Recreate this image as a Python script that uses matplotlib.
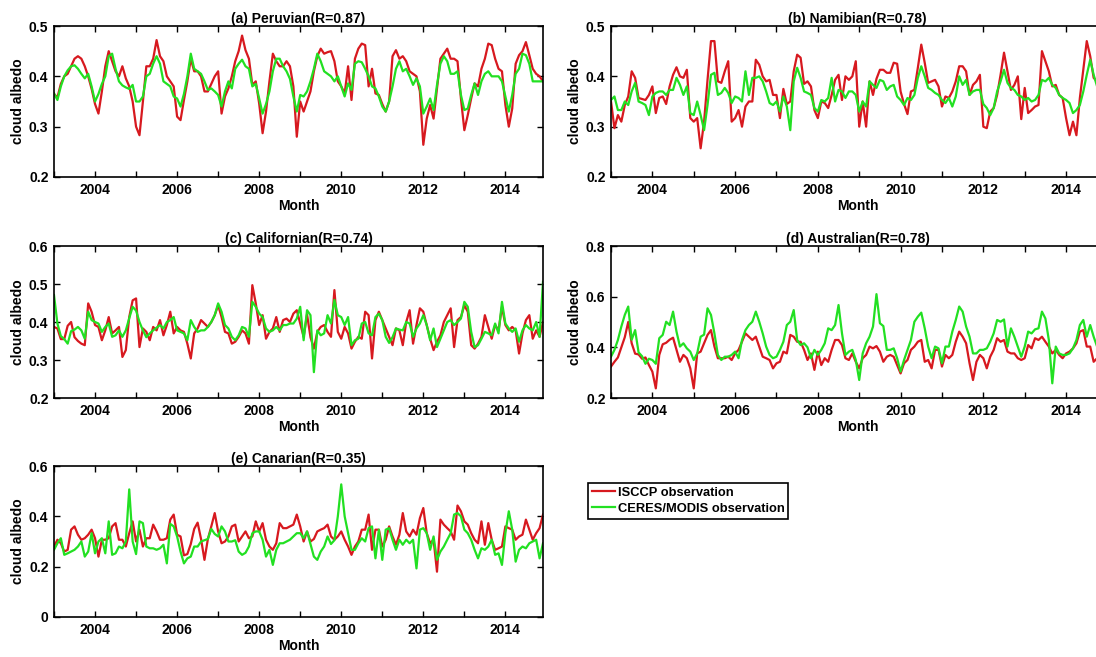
import numpy as np
import matplotlib
matplotlib.use('Agg')
import matplotlib.pyplot as plt
from matplotlib.ticker import MultipleLocator, FuncFormatter

plt.rcParams['font.family'] = ['Liberation Sans', 'DejaVu Sans']
plt.rcParams['font.weight'] = 'bold'

# monthly cloud albedo, Jan 2003 - Dec 2014 (one row per year)
peru_isccp = [
    .365, .358, .385, .40, .405, .42, .435, .44, .435, .42, .40, .375,
    .345, .326, .37, .42, .45, .43, .41, .40, .42, .396, .38, .35,
    .30, .283, .35, .42, .42, .435, .472, .44, .43, .40, .39, .38,
    .32, .313, .353, .39, .435, .41, .41, .40, .37, .37, .385, .40,
    .41, .326, .36, .376, .40, .43, .45, .481, .452, .435, .383, .39,
    .346, .287, .33, .39, .445, .43, .42, .42, .43, .42, .38, .28,
    .35, .33, .35, .37, .41, .44, .455, .445, .448, .45, .43, .39,
    .38, .366, .42, .353, .435, .455, .465, .462, .38, .415, .366, .363,
    .345, .33, .35, .44, .452, .435, .44, .43, .41, .405, .40, .37,
    .264, .316, .343, .316, .376, .435, .445, .455, .435, .435, .43, .356,
    .293, .323, .356, .386, .38, .415, .435, .465, .462, .435, .415, .41,
    .343, .30, .336, .425, .442, .45, .468, .442, .415, .405, .40, .39]
peru_ceres = [
    .366, .353, .38, .40, .412, .42, .422, .415, .405, .396, .405, .38,
    .35, .365, .385, .40, .44, .445, .415, .39, .382, .378, .375, .383,
    .35, .35, .36, .40, .405, .425, .44, .425, .39, .385, .38, .36,
    .356, .34, .365, .40, .445, .415, .41, .405, .39, .373, .376, .37,
    .363, .34, .37, .39, .376, .415, .425, .433, .42, .415, .38, .385,
    .356, .326, .345, .37, .41, .435, .435, .42, .41, .395, .36, .33,
    .363, .36, .37, .39, .415, .445, .43, .41, .405, .40, .39, .40,
    .38, .36, .386, .373, .425, .43, .428, .415, .40, .38, .376, .36,
    .34, .33, .35, .38, .415, .43, .41, .415, .40, .383, .396, .38,
    .326, .34, .356, .333, .383, .425, .44, .43, .405, .405, .41, .363,
    .333, .336, .363, .386, .363, .39, .405, .41, .40, .40, .40, .39,
    .36, .33, .363, .405, .415, .445, .442, .425, .39, .39, .39, .39]

namib_isccp = [
    .35, .297, .323, .31, .343, .36, .41, .397, .357, .355, .353, .363,
    .38, .327, .357, .36, .345, .38, .403, .418, .40, .397, .413, .317,
    .31, .317, .257, .31, .393, .47, .47, .39, .387, .41, .43, .31,
    .317, .333, .30, .34, .35, .35, .433, .423, .40, .39, .393, .363,
    .363, .317, .375, .345, .35, .41, .443, .437, .385, .39, .38, .333,
    .317, .35, .347, .337, .363, .393, .403, .353, .40, .393, .40, .43,
    .30, .35, .30, .39, .363, .395, .413, .413, .407, .407, .427, .425,
    .37, .345, .325, .37, .373, .417, .463, .427, .387, .39, .393, .38,
    .34, .36, .357, .37, .39, .42, .42, .41, .363, .383, .39, .403,
    .30, .297, .33, .337, .363, .403, .447, .41, .373, .383, .40, .315,
    .377, .327, .333, .34, .343, .45, .43, .41, .38, .383, .363, .357,
    .317, .283, .31, .283, .357, .413, .47, .44, .397, .39, .36, .34]
namib_ceres = [
    .353, .36, .333, .333, .35, .343, .37, .387, .35, .347, .343, .323,
    .36, .367, .37, .37, .363, .373, .373, .397, .383, .363, .38, .327,
    .323, .35, .323, .293, .343, .403, .407, .363, .367, .377, .367, .347,
    .36, .357, .35, .41, .363, .397, .397, .40, .39, .37, .347, .343,
    .35, .33, .36, .34, .293, .39, .417, .397, .37, .367, .363, .337,
    .33, .353, .35, .357, .397, .35, .373, .37, .357, .37, .37, .363,
    .33, .35, .34, .39, .383, .377, .393, .39, .373, .38, .383, .36,
    .353, .343, .357, .353, .363, .397, .42, .40, .377, .373, .367, .363,
    .353, .347, .357, .34, .36, .40, .383, .393, .363, .37, .373, .373,
    .345, .337, .323, .337, .37, .39, .413, .387, .377, .373, .363, .36,
    .353, .357, .35, .353, .363, .393, .39, .397, .383, .377, .363, .357,
    .353, .347, .327, .333, .343, .37, .403, .433, .403, .38, .38, .35]

calif_isccp = [
    .387, .383, .355, .355, .39, .40, .36, .35, .343, .339, .449, .427,
    .392, .387, .352, .378, .413, .37, .378, .387, .308, .326, .413, .457,
    .462, .334, .383, .374, .352, .387, .378, .405, .365, .392, .427, .37,
    .387, .378, .374, .343, .304, .37, .383, .405, .396, .387, .40, .418,
    .444, .413, .374, .37, .343, .348, .361, .378, .37, .343, .497, .449,
    .392, .418, .356, .374, .383, .413, .374, .405, .409, .40, .422, .431,
    .396, .361, .42, .36, .33, .374, .387, .392, .374, .361, .484, .374,
    .356, .387, .37, .33, .348, .361, .356, .427, .418, .304, .405, .427,
    .405, .383, .361, .339, .383, .378, .339, .40, .431, .343, .392, .436,
    .427, .392, .356, .326, .348, .365, .40, .418, .436, .334, .405, .413,
    .444, .427, .339, .33, .343, .361, .418, .387, .356, .392, .378, .44,
    .392, .378, .387, .378, .317, .37, .405, .418, .356, .378, .361, .40]
calif_ceres = [
    .471, .396, .363, .355, .343, .376, .38, .387, .378, .356, .427, .405,
    .40, .396, .374, .387, .396, .361, .365, .378, .361, .378, .41, .44,
    .43, .40, .378, .36, .37, .378, .385, .392, .383, .40, .405, .413,
    .378, .374, .37, .352, .405, .387, .374, .378, .378, .387, .40, .418,
    .449, .427, .392, .383, .361, .352, .365, .387, .383, .361, .453, .44,
    .422, .413, .383, .374, .378, .387, .378, .392, .392, .396, .396, .409,
    .44, .352, .431, .418, .268, .378, .365, .37, .418, .396, .458, .418,
    .413, .392, .413, .339, .352, .356, .396, .40, .37, .365, .413, .422,
    .405, .361, .345, .36, .383, .38, .378, .40, .396, .361, .383, .396,
    .418, .392, .352, .383, .334, .356, .378, .40, .405, .392, .40, .409,
    .453, .44, .374, .334, .339, .356, .374, .37, .365, .396, .37, .453,
    .396, .383, .374, .383, .348, .378, .392, .383, .378, .40, .361, .506]

austr_isccp = [
    .324, .343, .36, .40, .44, .50, .416, .375, .372, .355, .36, .33,
    .304, .238, .37, .412, .418, .43, .438, .39, .343, .37, .357, .317,
    .238, .376, .383, .416, .449, .468, .403, .357, .357, .357, .363, .35,
    .376, .39, .422, .455, .442, .429, .442, .403, .363, .357, .35, .317,
    .337, .343, .383, .376, .449, .442, .422, .422, .39, .35, .376, .311,
    .383, .33, .357, .343, .39, .429, .429, .409, .357, .35, .376, .343,
    .317, .357, .37, .403, .396, .405, .383, .343, .363, .37, .363, .33,
    .297, .337, .35, .39, .403, .422, .429, .343, .35, .317, .39, .39,
    .324, .37, .357, .37, .422, .462, .442, .416, .337, .271, .343, .37,
    .357, .317, .363, .39, .436, .422, .429, .383, .376, .376, .357, .35,
    .357, .409, .396, .436, .429, .442, .422, .403, .376, .39, .37, .357,
    .376, .383, .396, .416, .462, .468, .403, .403, .343, .357, .36, .36]
austr_ceres = [
    .363, .39, .429, .482, .528, .561, .43, .468, .38, .365, .335, .355,
    .35, .335, .436, .449, .501, .488, .541, .462, .403, .416, .396, .383,
    .35, .376, .442, .45, .554, .528, .455, .37, .35, .363, .363, .37,
    .383, .357, .429, .468, .488, .501, .541, .501, .455, .403, .37, .357,
    .363, .39, .422, .488, .501, .547, .429, .409, .416, .40, .357, .39,
    .37, .39, .416, .475, .468, .488, .567, .455, .37, .383, .39, .35,
    .271, .376, .416, .442, .482, .61, .495, .484, .39, .39, .396, .357,
    .304, .35, .39, .429, .501, .521, .537, .475, .403, .357, .403, .396,
    .337, .403, .403, .462, .508, .561, .541, .482, .442, .376, .376, .39,
    .39, .396, .422, .455, .508, .501, .51, .403, .475, .442, .403, .363,
    .403, .462, .455, .471, .475, .541, .514, .429, .258, .403, .376, .37,
    .37, .376, .396, .429, .488, .508, .442, .488, .442, .403, .39, .38]

canar_isccp = [
    .28, .307, .293, .26, .267, .347, .36, .327, .307, .313, .327, .347,
    .313, .24, .307, .307, .313, .36, .373, .307, .307, .28, .333, .38,
    .30, .347, .28, .313, .313, .367, .34, .307, .307, .313, .387, .407,
    .327, .32, .245, .25, .29, .35, .375, .31, .227, .31, .36, .413,
    .34, .293, .30, .32, .36, .367, .30, .32, .34, .313, .32, .38,
    .34, .373, .307, .28, .267, .293, .373, .353, .353, .36, .367, .407,
    .36, .30, .34, .30, .31, .34, .347, .353, .367, .32, .307, .32,
    .34, .307, .28, .247, .28, .30, .347, .347, .407, .267, .347, .347,
    .28, .307, .36, .32, .287, .327, .413, .34, .32, .347, .327, .393,
    .433, .333, .293, .307, .18, .387, .367, .353, .34, .307, .443, .42,
    .38, .367, .333, .307, .293, .38, .287, .373, .307, .267, .273, .28,
    .36, .353, .347, .307, .32, .327, .387, .347, .307, .333, .353, .407]
canar_ceres = [
    .267, .293, .313, .247, .253, .26, .267, .28, .30, .24, .26, .333,
    .253, .30, .313, .253, .38, .247, .253, .28, .273, .30, .507, .30,
    .25, .38, .373, .28, .273, .273, .267, .273, .287, .213, .37, .36,
    .32, .26, .213, .233, .24, .28, .28, .30, .305, .31, .35, .33,
    .32, .36, .34, .30, .30, .305, .26, .247, .255, .28, .333, .34,
    .34, .307, .24, .267, .207, .267, .293, .293, .30, .307, .32, .333,
    .333, .313, .34, .29, .24, .227, .26, .28, .32, .29, .305, .40,
    .527, .40, .333, .267, .267, .293, .313, .30, .353, .36, .233, .347,
    .227, .347, .353, .307, .267, .307, .287, .307, .293, .307, .193, .347,
    .353, .333, .267, .32, .227, .26, .28, .307, .333, .407, .413, .40,
    .347, .333, .307, .267, .233, .273, .267, .28, .307, .247, .253, .207,
    .333, .42, .347, .22, .267, .28, .273, .293, .30, .307, .233, .293]

titles = ['(a) Peruvian(R=0.87)', '(b) Namibian(R=0.78)', '(c) Californian(R=0.74)',
          '(d) Australian(R=0.78)', '(e) Canarian(R=0.35)']
series = [(peru_isccp, peru_ceres), (namib_isccp, namib_ceres), (calif_isccp, calif_ceres),
          (austr_isccp, austr_ceres), (canar_isccp, canar_ceres)]
ylims = [(0.2, 0.5, 0.1), (0.2, 0.5, 0.1), (0.2, 0.6, 0.1), (0.2, 0.8, 0.2), (0.0, 0.6, 0.2)]
labels = ['ISCCP observation', 'CERES/MODIS observation']

months = 2003 + np.arange(144) / 12.0

W, H = 1096, 657
fig = plt.figure(figsize=(W / 100, H / 100), dpi=100)

# axes boxes in pixels: left, top, right, bottom
boxes = [(54, 26, 543, 177), (611, 26, 1104, 177),
         (54, 246, 543, 398), (611, 246, 1104, 398),
         (54, 466, 543, 617)]

red = '#d7191f'
green = '#22e022'

for i in range(5):
    l, t, r, b = boxes[i]
    ax = fig.add_axes([l / W, 1 - b / H, (r - l) / W, (b - t) / H])
    isccp, ceres = series[i]
    assert len(isccp) == 144 and len(ceres) == 144
    h1, = ax.plot(months, isccp, color=red, lw=1.6, label=labels[0])
    h2, = ax.plot(months, ceres, color=green, lw=1.6, label=labels[1])

    lo, hi, step = ylims[i]
    ax.set_ylim(lo, hi)
    ax.set_xlim(months[0], months[-1])
    ax.yaxis.set_major_locator(MultipleLocator(step))
    ax.yaxis.set_major_formatter(FuncFormatter(lambda v, p: f'{v:g}'))
    ax.xaxis.set_major_locator(MultipleLocator(2))
    ax.xaxis.set_minor_locator(MultipleLocator(1))
    ax.tick_params(which='both', direction='in', top=True, right=True,
                   length=4, width=1, labelsize=10, pad=4)
    for s in ax.spines.values():
        s.set_linewidth(1.2)

    ax.set_title(titles[i], fontsize=10, fontweight='bold', pad=2)
    ax.set_xlabel('Month', fontsize=10, fontweight='bold', labelpad=2)
    ax.set_ylabel('cloud albedo', fontsize=10, fontweight='bold', labelpad=3)

leg = fig.legend([h1, h2], labels, loc='upper left',
                 bbox_to_anchor=(588 / W, 1 - 483 / H), fontsize=9.3,
                 handlelength=1.8, handletextpad=0.2, labelspacing=0.3,
                 borderpad=0.3, fancybox=False, framealpha=1, borderaxespad=0)
leg.get_frame().set_edgecolor('black')
leg.get_frame().set_linewidth(1.2)

plt.savefig('out.png', dpi=100)
